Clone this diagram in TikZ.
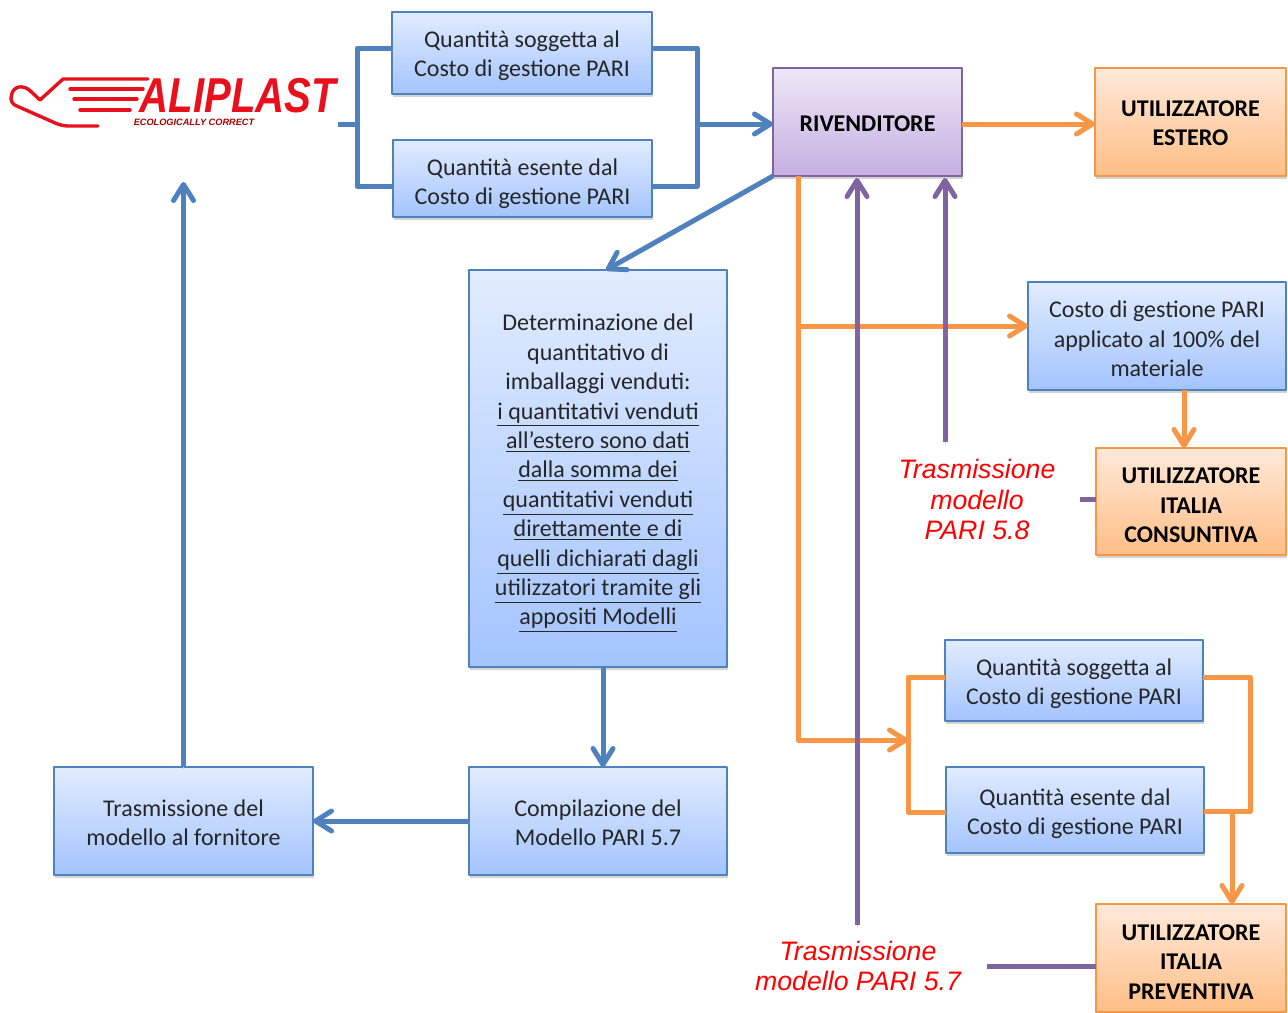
\documentclass[tikz,border=0pt]{standalone}
\usepackage{fontspec}
\usepackage{graphicx}
\setmainfont{Carlito}
\newfontfamily\arialfont{Liberation Sans}
\usetikzlibrary{arrows.meta,shadows}
\definecolor{wireblue}{HTML}{4F81BD}
\definecolor{wireorange}{HTML}{F79646}
\definecolor{wirepurple}{HTML}{8064A2}
\definecolor{logored}{HTML}{E8101C}
\definecolor{bluetop}{HTML}{E1ECFF}
\definecolor{bluebot}{HTML}{A3C4FF}
\definecolor{orangetop}{HTML}{FFE9DA}
\definecolor{orangebot}{HTML}{FFBE86}
\definecolor{purpletop}{HTML}{EEE7F6}
\definecolor{purplebot}{HTML}{C5AFE2}
\newcommand{\dropby}[1]{\rule{0pt}{\dimexpr 8.8pt+#1\relax}}
\tikzset{
  box/.style={draw, line width=1pt, inner sep=0pt, outer sep=0pt, align=center,
    font=\fontsize{12}{14.7}\selectfont, text=black!85,
    drop shadow={shadow xshift=0.5pt, shadow yshift=-1.5pt, opacity=.35}},
  bluebox/.style={box, draw=wireblue, top color=bluetop, bottom color=bluebot},
  orangebox/.style={box, draw=wireorange, top color=orangetop, bottom color=orangebot,
    font=\fontsize{12}{14.7}\selectfont\bfseries, text=black},
  purplebox/.style={box, draw=wirepurple, top color=purpletop, bottom color=purplebot,
    font=\fontsize{12}{14.7}\selectfont\bfseries, text=black},
  wire/.style={line width=2.5pt, line cap=butt,
    preaction={draw=black!20, transform canvas={yshift=-1pt}}},
  bluewire/.style={wire, draw=wireblue},
  orangewire/.style={wire, draw=wireorange},
  purplewire/.style={wire, draw=wirepurple},
  redlabel/.style={align=center, text=red, inner sep=0pt,
    font=\arialfont\itshape\fontsize{13.35}{15.2}\selectfont},
  handline/.style={draw=logored, line width=1.7pt},
}
\begin{document}
\begin{tikzpicture}[x=0.5pt, y=-0.5pt, line join=round, line cap=round,
    >={Straight Barb[round, length=8pt, width=10pt, line width=2.5pt]}]
\useasboundingbox (0,0) rectangle (1288,1012);
% logo
\draw[handline] (148,79)--(63,79)--(40,100);
\draw[handline, rounded corners=3pt] (40,100)--(25,86)--(13,88)--(10,103)--(62,126)--(98,126);
\draw[handline] (70,89)--(143,89);
\draw[handline] (74,99)--(137,99);
\draw[handline] (80,110)--(130,110);
\node[text=logored, inner sep=0pt] (logo) at (238,96) {\arialfont\itshape\bfseries\fontsize{24.5}{26}\selectfont\scalebox{.82}[1]{ALIPLAST}};
\node[text=red!65!black, inner sep=0pt] (motto) at (194,122.5) {\arialfont\itshape\bfseries\fontsize{4.6}{5}\selectfont ECOLOGICALLY CORRECT};
% boxes
\node[bluebox, minimum width=130pt, minimum height=41pt] (qs) at (522,53) {\dropby{2.5pt}Quantità soggetta al\\Costo di gestione PARI};
\node[bluebox, minimum width=129.5pt, minimum height=38.5pt] (qe) at (522.5,178.5) {\dropby{4.5pt}Quantità esente dal\\Costo di gestione PARI};
\node[purplebox, minimum width=94.5pt, minimum height=54pt] (riv) at (867.5,122) {\dropby{1pt}RIVENDITORE};
\node[orangebox, minimum width=95.5pt, minimum height=54pt] (est) at (1190.5,122) {\dropby{.5pt}UTILIZZATORE\\ESTERO};
\node[bluebox, minimum width=129pt, minimum height=198.5pt] (det) at (598,468.5) {\dropby{4.5pt}Determinazione del\\quantitativo di\\imballaggi venduti:\\
  \underline{i quantitativi venduti}\\\underline{all’estero sono dati}\\\underline{dalla somma dei}\\\underline{quantitativi venduti}\\
  \underline{direttamente e di}\\\underline{quelli dichiarati dagli}\\\underline{utilizzatori tramite gli}\\\underline{appositi Modelli}};
\node[bluebox, minimum width=129pt, minimum height=54pt] (comp) at (598,821) {\dropby{1pt}Compilazione del\\Modello PARI 5.7};
\node[bluebox, minimum width=129.5pt, minimum height=54pt] (tras) at (183.5,821) {\dropby{1pt}Trasmissione del\\modello al fornitore};
\node[bluebox, minimum width=129pt, minimum height=54pt] (costo) at (1157,336) {\dropby{2.5pt}Costo di gestione PARI\\applicato al 100\% del\\materiale};
\node[orangebox, minimum width=95pt, minimum height=53.5pt] (cons) at (1191,501.5) {\dropby{3pt}UTILIZZATORE\\ITALIA\\CONSUNTIVA};
\node[bluebox, minimum width=129pt, minimum height=40.5pt] (qsb) at (1074,680.5) {\dropby{3pt}Quantità soggetta al\\Costo di gestione PARI};
\node[bluebox, minimum width=129pt, minimum height=43pt] (qeb) at (1075,810) {\dropby{3pt}Quantità esente dal\\Costo di gestione PARI};
\node[orangebox, minimum width=95pt, minimum height=54pt] (prev) at (1191,958) {\dropby{3pt}UTILIZZATORE\\ITALIA\\PREVENTIVA};
\node[redlabel] (tr58) at (977,499.5) {Trasmissione\\modello\\PARI 5.8};
\node[redlabel] (tr57) at (858,966) {Trasmissione\\modello PARI 5.7};
% free ends
\coordinate (blogo) at (338,124);
\coordinate (bl) at (357,124);
\coordinate (bltop) at (357,48);
\coordinate (blbot) at (357,186);
\coordinate (br) at (697,124);
\coordinate (brtop) at (697,48);
\coordinate (brbot) at (697,186);
\coordinate (otrunk) at (798,176);
\coordinate (ocosto) at (798,326);
\coordinate (ofork) at (798,740);
\coordinate (ol) at (908,740);
\coordinate (oltop) at (908,677);
\coordinate (olbot) at (908,812);
\coordinate (ortop) at (1250,677);
\coordinate (orbot) at (1250,811);
\coordinate (odown) at (1232,811);
\coordinate (ptr57) at (857,925);
\coordinate (ptr58) at (945,442);
\coordinate (ps57) at (987,966);
\coordinate (ps58) at (1080,499);
\coordinate (tup) at (183.5,182);
% blue wires
\draw[bluewire] (blogo)--(bl);
\draw[bluewire] (qs.west |- bltop)--(bltop)--(blbot)--(qe.west |- blbot);
\draw[bluewire] (qs.east |- brtop)--(brtop)--(brbot)--(qe.east |- brbot);
\draw[bluewire,->] (br)--(riv.west |- br);
\draw[bluewire,->] (riv.south west)--(606,270);
\draw[bluewire,->] (det.south -| 603,0)--(comp.north -| 603,0);
\draw[bluewire,->] (comp.west)--(tras.east);
\draw[bluewire,->] (tras.north)--(tup);
% orange wires
\draw[orangewire,->] (riv.east |- 0,124)--(est.west |- 0,124);
\draw[orangewire] (otrunk)--(ofork)--(ol);
\draw[orangewire,->] (ofork)--(ol);
\draw[orangewire,->] (ocosto)--(costo.west |- ocosto);
\draw[orangewire] (qsb.west |- oltop)--(oltop)--(olbot)--(qeb.west |- olbot);
\draw[orangewire] (qsb.east |- ortop)--(ortop)--(orbot)--(qeb.east |- orbot);
\draw[orangewire,->] (odown)--(prev.north -| odown);
\draw[orangewire,->] (costo.south -| 1184,0)--(cons.north -| 1184,0);
% purple wires
\draw[purplewire,->] (ptr57)--([yshift=-1pt]riv.south -| ptr57);
\draw[purplewire,->] (ptr58)--([yshift=-1pt]riv.south -| ptr58);
\draw[purplewire] (prev.west |- ps57)--(ps57);
\draw[purplewire] (cons.west |- ps58)--(ps58);
\end{tikzpicture}
\end{document}
